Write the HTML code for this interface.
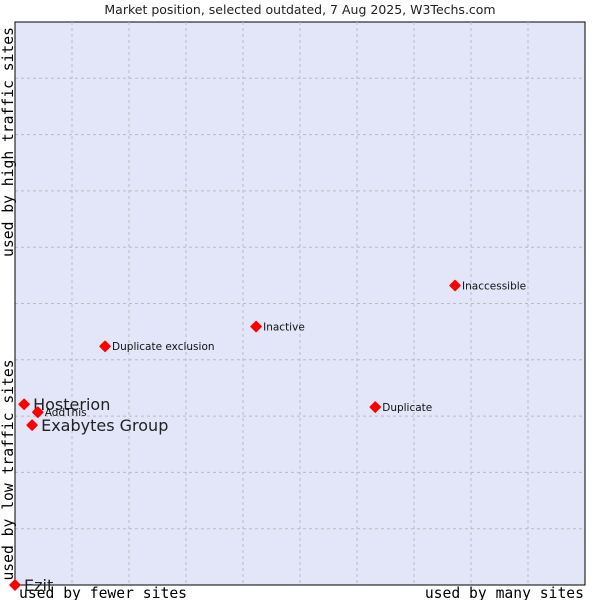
<!DOCTYPE html>
<html><head><meta charset="utf-8"><style>
body{margin:0;background:#fff;}
svg{display:block;font-family:"DejaVu Sans","Liberation Sans",sans-serif;}
.mono{font-family:"DejaVu Sans Mono","Liberation Mono",monospace;font-size:14.7px;fill:#000;}
</style></head><body>
<svg id="chart" width="600" height="600" viewBox="0 0 600 600">
<text x="300" y="14" text-anchor="middle" font-size="12.5" fill="#222">Market position, selected outdated, 7 Aug 2025, W3Techs.com</text>
<rect x="15" y="22" width="570" height="563" fill="#e3e5f8" stroke="#000" stroke-width="1"/>
<g id="grid"></g>
<line x1="15" y1="585" x2="585" y2="585" stroke="#000"/>
<line x1="15" y1="22" x2="15" y2="585" stroke="#000"/>
<text class="mono" x="19" y="598">used by fewer sites</text>
<text class="mono" x="584" y="598" text-anchor="end">used by many sites</text>
<text class="mono" transform="translate(13,470) rotate(-90)" text-anchor="middle">used by low traffic sites</text>
<text class="mono" transform="translate(13,142) rotate(-90)" text-anchor="middle">used by high traffic sites</text>
<g id="points"></g>
</svg>
<script>
const names=["Hosterion","AddThis","Exabytes Group","Ezit","Duplicate exclusion","Inactive","Inaccessible","Duplicate"];
const xValues=[1.6,4.0,3.0,0,15.8,42.3,77.2,63.2];
const yValues=[32.1,30.7,28.4,0,42.4,45.9,53.2,31.6];
const labelSizes=[16,10.5,16,16,10.5,10.5,10.5,10.5];
const NS="http://www.w3.org/2000/svg";
const L=15,T=22,W=570,H=563;
const sx=v=>L+v/100*W, sy=v=>T+H-v/100*H;
const grid=document.getElementById('grid');
for(let i=1;i<10;i++){
  const a=document.createElementNS(NS,'line');
  
  
  a.setAttribute('x1',sx(i*10));a.setAttribute('x2',sx(i*10));a.setAttribute('y1',T);a.setAttribute('y2',T+H);
  a.setAttribute('stroke','#bbb');a.setAttribute('stroke-dasharray','3,3');grid.appendChild(a);
  const b=document.createElementNS(NS,'line');
  
  
  b.setAttribute('y1',sy(i*10));b.setAttribute('y2',sy(i*10));b.setAttribute('x1',L);b.setAttribute('x2',L+W);
  b.setAttribute('stroke','#bbb');b.setAttribute('stroke-dasharray','3,3');grid.appendChild(b);
}
const pts=document.getElementById('points');
names.forEach((n,i)=>{
  const x=sx(xValues[i]),y=sy(yValues[i]);
  const d=document.createElementNS(NS,'path');
  
  
  const r=5;
  d.setAttribute('d',`M${x} ${y-r}L${x+r} ${y}L${x} ${y+r}L${x-r} ${y}Z`);
  d.setAttribute('fill','#f00');d.setAttribute('stroke','#f00');d.setAttribute('stroke-width','1.5');d.setAttribute('stroke-linejoin','round');
  pts.appendChild(d);
  const t=document.createElementNS(NS,'text');
  
  
  const fs=labelSizes[i];
  t.setAttribute('x',x+(fs>12?9:7));t.setAttribute('y',y+fs*0.36);
  t.setAttribute('font-size',fs);t.setAttribute('fill',fs>12?'#222':'#111');
  t.textContent=n;pts.appendChild(t);
});
</script>
</body></html>
